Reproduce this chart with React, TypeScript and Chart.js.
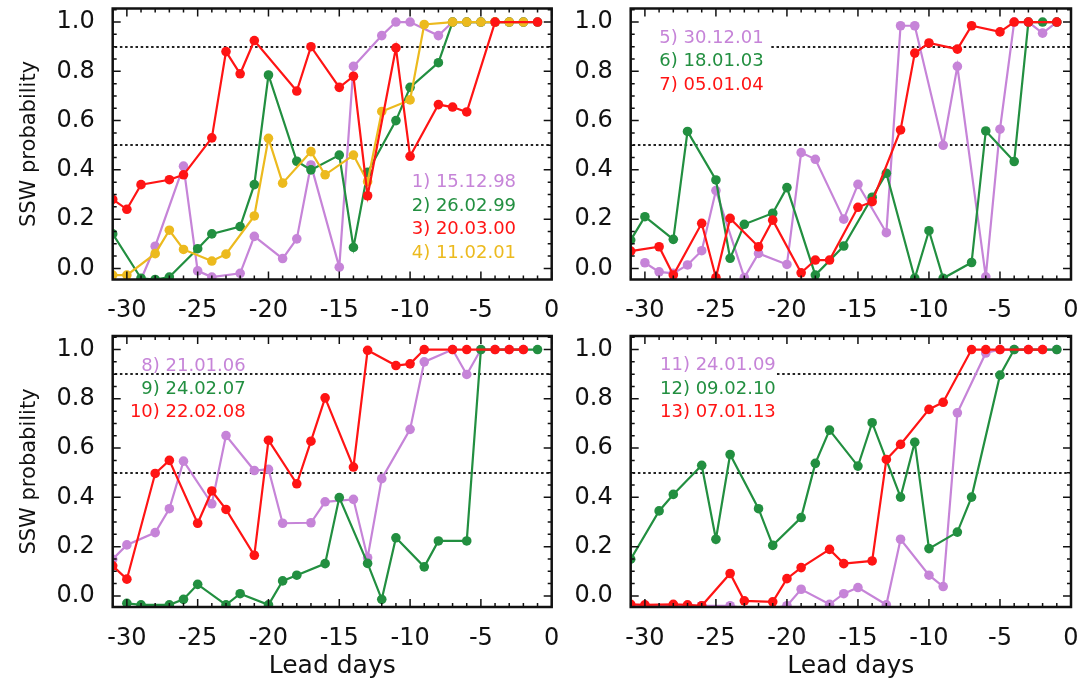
import React, { useEffect, useRef } from "react";
import { Chart, registerables } from "chart.js";

Chart.register(...registerables);

// ---------- data ----------
const days = [-31, -30, -29, -28, -27, -26, -25, -24, -23, -22, -21, -20, -19, -18, -17, -16, -15, -14, -13, -12, -11, -10, -9, -8, -7, -6, -5, -4, -3, -2, -1];
const xTickValues = [-30, -25, -20, -15, -10, -5, 0];
const yTickValues = [0, 0.2, 0.4, 0.6, 0.8, 1.0];
const thresholds = [0.5, 0.9];

// panel 1
const ssw1 = [null, null, -0.045, 0.09, null, 0.415, -0.01, -0.035, null, -0.02, 0.13, null, 0.04, 0.12, 0.42, null, 0.005, 0.82, null, 0.945, 1, 1, null, 0.945, 1, 1, 1, 1, 1, 1, null];
const ssw2 = [0.14, null, -0.04, -0.045, -0.035, null, 0.08, 0.14, null, 0.17, 0.34, 0.785, null, 0.435, 0.4, null, 0.46, 0.085, 0.39, null, 0.6, 0.735, null, 0.835, 1, 1, 1, 1, 1, 1, 1];
const ssw3 = [0.28, 0.24, 0.34, null, 0.36, 0.38, null, 0.53, 0.88, 0.79, 0.925, null, null, 0.72, 0.9, null, 0.735, 0.78, 0.295, null, 0.895, 0.455, null, 0.665, 0.655, 0.635, null, 1, null, null, 1];
const ssw4 = [-0.027, -0.027, null, 0.06, 0.155, 0.077, null, 0.03, 0.058, null, 0.213, 0.528, 0.346, null, 0.474, 0.38, null, 0.46, 0.352, 0.637, null, 0.684, 0.99, null, 1, 1, 1, 1, 1, 1, null];
// panel 2
const ssw5 = [null, 0.023, -0.014, -0.02, 0.014, 0.072, 0.316, null, -0.037, 0.061, null, 0.016, 0.47, 0.443, null, 0.2, 0.341, null, 0.145, 0.985, 0.985, null, 0.5, 0.82, null, -0.034, 0.565, 1, 1, 0.955, 1];
const ssw6 = [0.115, 0.21, null, 0.118, 0.556, null, 0.359, 0.041, 0.179, null, 0.224, 0.328, null, -0.027, null, 0.091, null, 0.289, 0.386, null, -0.04, 0.153, -0.04, null, 0.024, 0.558, null, 0.434, 1, 1, 1];
const ssw7 = [0.07, null, 0.088, -0.027, null, 0.183, -0.037, 0.203, null, 0.088, 0.196, null, -0.018, 0.034, 0.034, null, 0.248, 0.271, null, 0.562, 0.874, 0.915, null, 0.89, 0.985, null, 0.96, 1, 1, null, 1];
// panel 3
const ssw8 = [0.149, 0.207, null, 0.257, 0.354, 0.547, null, 0.374, 0.651, null, 0.509, 0.514, 0.295, null, 0.297, 0.382, null, 0.392, 0.155, 0.476, null, 0.676, 0.95, null, 1, 0.899, 1, 1, 1, 1, null];
const ssw9 = [null, -0.03, -0.036, null, -0.036, -0.014, 0.047, null, -0.036, 0.009, null, -0.036, 0.061, 0.084, null, 0.131, 0.399, null, 0.132, -0.014, 0.236, null, 0.118, 0.223, null, 0.223, 1, null, null, null, 1];
const ssw10 = [0.122, 0.068, null, 0.497, 0.55, null, 0.295, 0.426, 0.351, null, 0.165, 0.632, null, 0.455, 0.628, 0.804, null, 0.523, 0.997, null, 0.935, 0.942, 1, null, 1, 1, null, 1, 1, 1, null];
// panel 4
const ssw11 = [-0.04, -0.04, null, -0.04, null, -0.04, null, -0.04, null, -0.06, null, -0.04, 0.027, null, -0.034, 0.009, 0.034, null, -0.036, 0.23, null, 0.084, 0.038, 0.743, null, 0.986, 1, 1, 1, 1, 1];
const ssw12 = [0.149, null, 0.345, 0.412, null, 0.53, 0.23, 0.574, null, 0.354, 0.205, null, 0.318, 0.538, 0.673, null, 0.527, 0.703, null, 0.401, 0.624, 0.192, null, 0.259, 0.401, null, 0.896, 1, null, null, 1];
const ssw13 = [-0.034, -0.036, null, -0.034, -0.036, -0.04, null, 0.091, -0.02, null, -0.024, 0.07, 0.115, null, 0.189, 0.131, null, 0.142, 0.554, 0.615, null, 0.757, 0.786, null, 1, 1, 1, null, 1, 1, null];

const PURPLE = "rgb(198,132,216)";
const GREEN = "rgb(34,143,64)";
const RED = "rgb(255,20,20)";
const GOLD = "rgb(236,186,30)";

const FONT = '"DejaVu Sans", "Liberation Sans", sans-serif';

type Series = { label: string; data: (number | null)[]; color: string; order: number };
type PanelCfg = {
  left: number; top: number; height: number; padTop: number; padRight: number; xScaleH: number;
  yTitle: boolean; xTitle: boolean; series: Series[];
  legendX: number; legendY: number; legendAlign: CanvasTextAlign; start09: number | null;
};

const W = 570;
const panels: PanelCfg[] = [
  {
    left: 0, top: 0, height: 330, padTop: 8.5, padRight: 18.3, xScaleH: 50.5, yTitle: true, xTitle: false,
    series: [
      { label: "1) 15.12.98", data: ssw1, color: PURPLE, order: 3 },
      { label: "2) 26.02.99", data: ssw2, color: GREEN, order: 2 },
      { label: "3) 20.03.00", data: ssw3, color: RED, order: 0 },
      { label: "4) 11.02.01", data: ssw4, color: GOLD, order: 1 },
    ],
    legendX: 411.7, legendY: 182.7, legendAlign: "left", start09: null,
  },
  {
    left: 518, top: 0, height: 330, padTop: 8.5, padRight: 17, xScaleH: 50.5, yTitle: false, xTitle: false,
    series: [
      { label: "5) 30.12.01", data: ssw5, color: PURPLE, order: 3 },
      { label: "6) 18.01.03", data: ssw6, color: GREEN, order: 2 },
      { label: "7) 05.01.04", data: ssw7, color: RED, order: 0 },
    ],
    legendX: 141.3, legendY: 38.3, legendAlign: "left", start09: -21.1,
  },
  {
    left: 0, top: 320, height: 364, padTop: 16, padRight: 18.3, xScaleH: 77, yTitle: true, xTitle: true,
    series: [
      { label: "8) 21.01.06", data: ssw8, color: PURPLE, order: 3 },
      { label: "9) 24.02.07", data: ssw9, color: GREEN, order: 2 },
      { label: "10) 22.02.08", data: ssw10, color: RED, order: 0 },
    ],
    legendX: 245.7, legendY: 46, legendAlign: "right", start09: null,
  },
  {
    left: 518, top: 320, height: 364, padTop: 16, padRight: 17, xScaleH: 77, yTitle: false, xTitle: true,
    series: [
      { label: "11) 24.01.09", data: ssw11, color: PURPLE, order: 3 },
      { label: "12) 09.02.10", data: ssw12, color: GREEN, order: 2 },
      { label: "13) 07.01.13", data: ssw13, color: RED, order: 0 },
    ],
    legendX: 142, legendY: 45.7, legendAlign: "left", start09: -20.7,
  },
];

const framePlugin = {
  id: "frame",
  beforeDatasetsDraw(chart: any, _args: any, opts: any) {
    const { ctx, chartArea: a, scales } = chart;
    const x = scales.x, y = scales.y;
    ctx.save();
    ctx.beginPath();
    ctx.setLineDash([2.5, 2.7]);
    ctx.lineWidth = 2.2;
    ctx.strokeStyle = "#222";
    thresholds.forEach((t) => {
      const py = Math.round(y.getPixelForValue(t));
      const sx = t === 0.9 && opts.start09 != null ? x.getPixelForValue(opts.start09) : a.left + 2;
      ctx.moveTo(sx, py);
      ctx.lineTo(a.right, py);
    });
    ctx.stroke();
    ctx.restore();
  },
  afterDraw(chart: any, _args: any, opts: any) {
    const { ctx, chartArea: a, scales } = chart;
    const x = scales.x, y = scales.y;
    ctx.save();
    ctx.setLineDash([]);
    ctx.strokeStyle = "#111";
    ctx.lineWidth = 1.5;
    ctx.beginPath();
    for (let v = Math.ceil(x.min); v <= x.max; v++) {
      const px = x.getPixelForValue(v);
      const len = v % 5 === 0 ? 8 : 4;
      ctx.moveTo(px, a.bottom); ctx.lineTo(px, a.bottom - len);
      ctx.moveTo(px, a.top); ctx.lineTo(px, a.top + len);
    }
    for (let k = 0; k * 0.05 <= y.max; k++) {
      const py = y.getPixelForValue(k * 0.05);
      const len = k % 4 === 0 ? 8 : 4;
      ctx.moveTo(a.left, py); ctx.lineTo(a.left + len, py);
      ctx.moveTo(a.right, py); ctx.lineTo(a.right - len, py);
    }
    ctx.stroke();
    ctx.lineWidth = 2.5;
    ctx.strokeStyle = "#111";
    ctx.strokeRect(a.left, a.top, a.right - a.left, a.bottom - a.top);
    // legend text
    ctx.font = `18px ${FONT}`;
    ctx.textBaseline = "middle";
    ctx.textAlign = opts.align;
    (opts.items as { label: string; color: string }[]).forEach((it, i) => {
      ctx.fillStyle = it.color;
      ctx.fillText(it.label, opts.x, opts.y + i * 23.4);
    });
    ctx.restore();
  },
};

function Panel({ cfg }: { cfg: PanelCfg }) {
  const ref = useRef<HTMLCanvasElement>(null);
  useEffect(() => {
    if (!ref.current) return;
    const chart = new Chart(ref.current, {
      type: "line",
      data: {
        datasets: cfg.series.map((s) => ({
          label: s.label,
          data: days.map((d, i) => ({ x: d, y: s.data[i] })),
          borderColor: s.color,
          backgroundColor: s.color,
          pointBackgroundColor: s.color,
          pointBorderColor: s.color,
          pointBorderWidth: 0,
          pointRadius: 4.8,
          borderWidth: 2.2,
          spanGaps: true,
          fill: false,
          order: s.order,
        })),
      } as any,
      plugins: [framePlugin as any],
      options: {
        responsive: false,
        animation: false,
        events: [],
        layout: { autoPadding: false, padding: { left: 0, top: cfg.padTop, right: cfg.padRight, bottom: 0 } },
        plugins: {
          legend: { display: false },
          tooltip: { enabled: false },
          frame: { start09: cfg.start09, items: cfg.series.map((s) => ({ label: s.label, color: s.color })), x: cfg.legendX, y: cfg.legendY, align: cfg.legendAlign },
        } as any,
        scales: {
          x: {
            type: "linear",
            min: -31,
            max: 0,
            grid: { display: false },
            border: { display: false },
            afterBuildTicks: (scale: any) => { scale.ticks = xTickValues.map((value) => ({ value })); },
            afterFit: (scale: any) => {
              scale.height = cfg.xScaleH;
              scale.paddingLeft = 0; scale.paddingRight = 0; scale.paddingTop = 0; scale.paddingBottom = 0;
            },
            ticks: { autoSkip: false, maxRotation: 0, padding: 9, color: "#111", font: { family: FONT, size: 24 }, callback: (v: any) => String(v) },
            title: { display: cfg.xTitle, text: "Lead days", color: "#111", font: { family: FONT, size: 25 }, padding: { top: 0, bottom: 3 } },
          },
          y: {
            type: "linear",
            min: -0.045,
            max: 1.055,
            grid: { display: false },
            border: { display: false },
            afterBuildTicks: (scale: any) => { scale.ticks = yTickValues.map((value) => ({ value })); },
            afterFit: (scale: any) => {
              scale.width = 112.7;
              scale.paddingLeft = 0; scale.paddingRight = 0; scale.paddingTop = 0; scale.paddingBottom = 0;
            },
            ticks: { padding: 10, color: "#111", font: { family: FONT, size: 24 }, callback: (v: any) => Number(v).toFixed(1) },
            title: { display: cfg.yTitle, text: "SSW probability", color: "#111", font: { family: FONT, size: 21 }, padding: { top: 17, bottom: 0 } },
          },
        },
      } as any,
    });
    return () => chart.destroy();
  }, []);
  return (
    <canvas
      ref={ref}
      width={W}
      height={cfg.height}
      style={{ position: "absolute", left: cfg.left, top: cfg.top, width: W, height: cfg.height }}
    />
  );
}

export default function App() {
  return (
    <div style={{ position: "absolute", left: 0, top: 0, width: 1079, height: 684, overflow: "hidden", background: "#fff" }}>
      {panels.map((p, i) => (
        <Panel key={i} cfg={p} />
      ))}
    </div>
  );
}
